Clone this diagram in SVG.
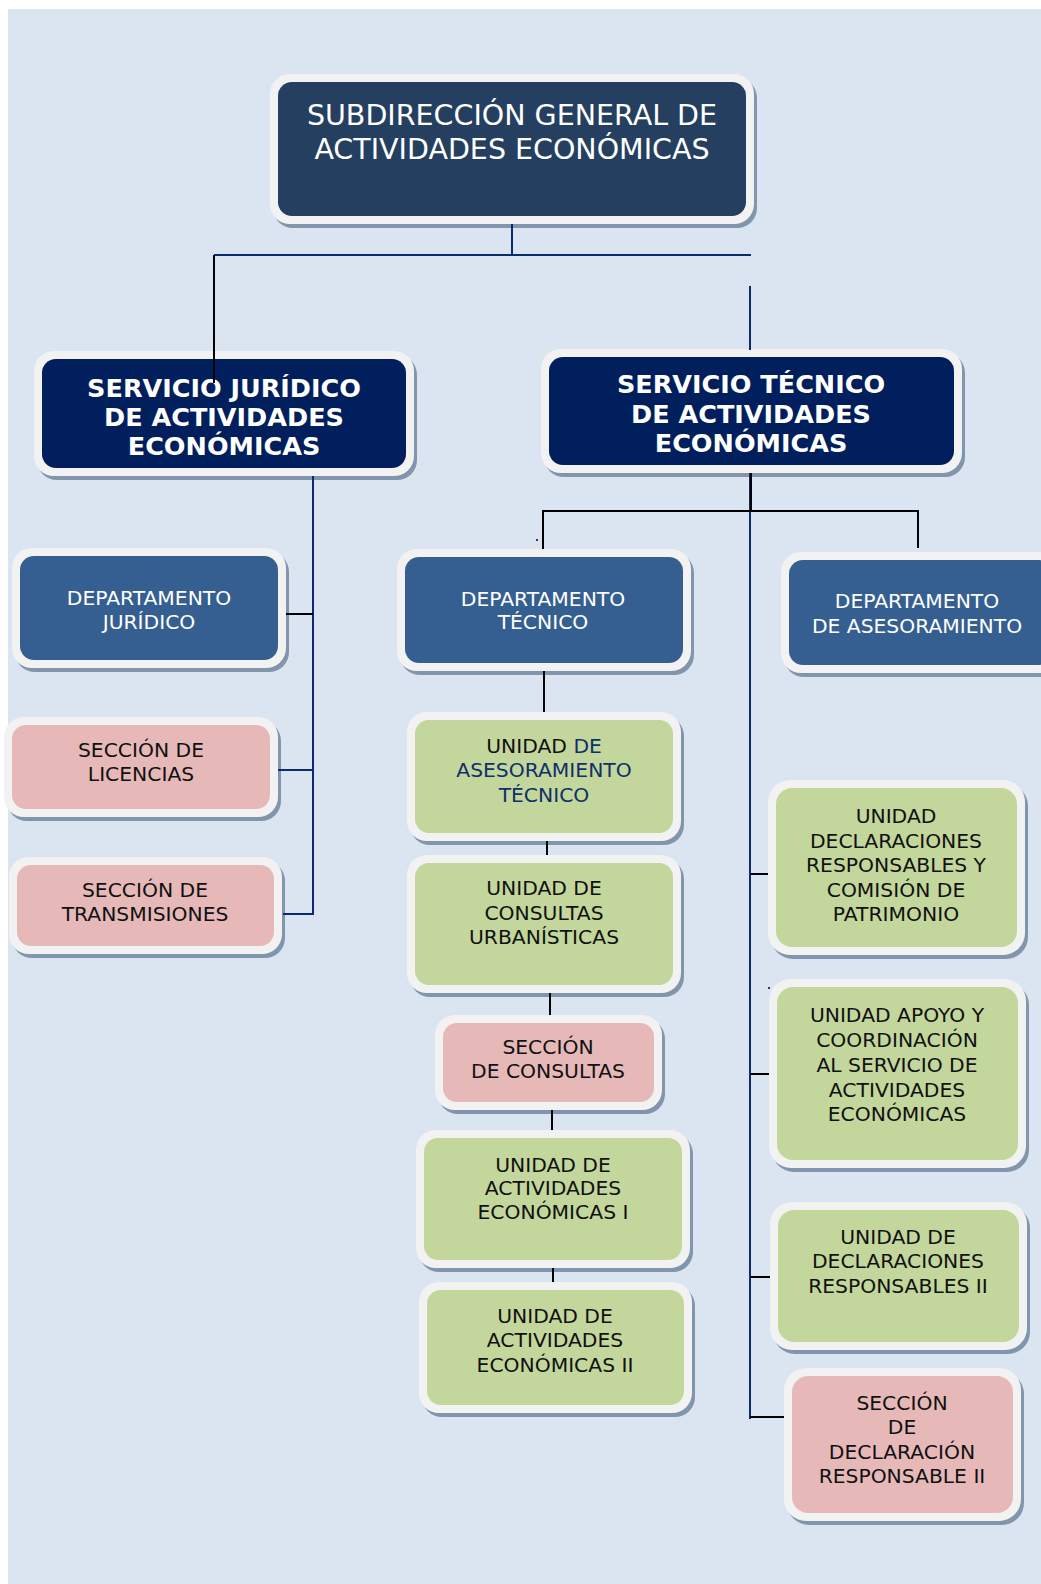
<svg xmlns="http://www.w3.org/2000/svg" width="1041" height="1584" viewBox="0 0 1041 1584">
<style>
.sh{fill:#8195ad;}
.ob{fill:#f2f2f2;}
.title{fill:#243f60;}
.serv{fill:#001f5c;}
.dept{fill:#365f91;}
.green{fill:#c3d69b;}
.pink{fill:#e6b9b8;}
text{font-family:"DejaVu Sans",Verdana,sans-serif;text-anchor:middle;}
.tt{font-size:28.5px;fill:#ffffff;}
.tb{font-size:25.5px;font-weight:bold;fill:#ffffff;}
.tw{font-size:20.3px;fill:#ffffff;}
.tk{font-size:20.3px;fill:#111111;}
.nv{fill:#10306a;}
.cn{fill:none;stroke:#0c2a6e;stroke-width:2;}
.ck{fill:none;stroke:#000000;stroke-width:2;}
</style>
<rect x="0" y="0" width="1041" height="1584" fill="#ffffff"/>
<rect x="8" y="9" width="1033" height="1575" fill="#dbe5f1"/>

<g id="n-subdireccion">
<rect class="sh" x="273" y="78" width="484" height="150" rx="20"/>
<rect class="ob" x="270" y="74" width="484" height="150" rx="20"/>
<rect class="title" x="278" y="82" width="468" height="134" rx="14"/>
<text class="tt" x="512" y="125">SUBDIRECCIÓN GENERAL DE</text>
<text class="tt" x="512" y="159">ACTIVIDADES ECONÓMICAS</text>
</g>

<g id="n-serv-juridico">
<rect class="sh" x="37" y="355" width="380" height="125" rx="20"/>
<rect class="ob" x="34" y="351" width="380" height="125" rx="20"/>
<rect class="serv" x="42" y="359" width="364" height="109" rx="14"/>
<text class="tb" x="224" y="397">SERVICIO JURÍDICO</text>
<text class="tb" x="224" y="426">DE ACTIVIDADES</text>
<text class="tb" x="224" y="455">ECONÓMICAS</text>
</g>

<g id="n-serv-tecnico">
<rect class="sh" x="544" y="353" width="421" height="124" rx="20"/>
<rect class="ob" x="541" y="349" width="421" height="124" rx="20"/>
<rect class="serv" x="549" y="357" width="405" height="108" rx="14"/>
<text class="tb" x="751" y="393">SERVICIO TÉCNICO</text>
<text class="tb" x="751" y="423">DE ACTIVIDADES</text>
<text class="tb" x="751" y="452">ECONÓMICAS</text>
</g>

<g id="n-dept-juridico">
<rect class="sh" x="15" y="552" width="274" height="120" rx="20"/>
<rect class="ob" x="12" y="548" width="274" height="120" rx="20"/>
<rect class="dept" x="20" y="556" width="258" height="104" rx="14"/>
<text class="tw" x="149" y="605">DEPARTAMENTO</text>
<text class="tw" x="149" y="629">JURÍDICO</text>
</g>

<g id="n-dept-tecnico">
<rect class="sh" x="400" y="553" width="294" height="122" rx="20"/>
<rect class="ob" x="397" y="549" width="294" height="122" rx="20"/>
<rect class="dept" x="405" y="557" width="278" height="106" rx="14"/>
<text class="tw" x="543" y="606">DEPARTAMENTO</text>
<text class="tw" x="543" y="629">TÉCNICO</text>
</g>

<g id="n-dept-asesoramiento">
<rect class="sh" x="784" y="556" width="280" height="121" rx="20"/>
<rect class="ob" x="781" y="552" width="280" height="121" rx="20"/>
<rect class="dept" x="789" y="560" width="264" height="105" rx="14"/>
<text class="tw" x="917" y="608">DEPARTAMENTO</text>
<text class="tw" x="917" y="633">DE ASESORAMIENTO</text>
</g>

<g id="n-licencias">
<rect class="sh" x="7" y="721" width="274" height="100" rx="20"/>
<rect class="ob" x="4" y="717" width="274" height="100" rx="20"/>
<rect class="pink" x="12" y="725" width="258" height="84" rx="14"/>
<text class="tk" x="141" y="757">SECCIÓN DE</text>
<text class="tk" x="141" y="781">LICENCIAS</text>
</g>

<g id="n-transmisiones">
<rect class="sh" x="12" y="861" width="273" height="97" rx="20"/>
<rect class="ob" x="9" y="857" width="273" height="97" rx="20"/>
<rect class="pink" x="17" y="865" width="257" height="81" rx="14"/>
<text class="tk" x="145" y="897">SECCIÓN DE</text>
<text class="tk" x="145" y="921">TRANSMISIONES</text>
</g>

<g id="n-u-asesoramiento-tecnico">
<rect class="sh" x="410" y="716" width="274" height="129" rx="20"/>
<rect class="ob" x="407" y="712" width="274" height="129" rx="20"/>
<rect class="green" x="415" y="720" width="258" height="113" rx="14"/>
<text class="tk" x="544" y="753">UNIDAD <tspan class="nv">DE</tspan></text>
<text class="tk nv" x="544" y="777">ASESORAMIENTO</text>
<text class="tk nv" x="544" y="802">TÉCNICO</text>
</g>

<g id="n-u-consultas">
<rect class="sh" x="410" y="859" width="274" height="138" rx="20"/>
<rect class="ob" x="407" y="855" width="274" height="138" rx="20"/>
<rect class="green" x="415" y="863" width="258" height="122" rx="14"/>
<text class="tk" x="544" y="895">UNIDAD DE</text>
<text class="tk" x="544" y="920">CONSULTAS</text>
<text class="tk" x="544" y="944">URBANÍSTICAS</text>
</g>

<g id="n-s-consultas">
<rect class="sh" x="438" y="1019" width="227" height="95" rx="20"/>
<rect class="ob" x="435" y="1015" width="227" height="95" rx="20"/>
<rect class="pink" x="443" y="1023" width="211" height="79" rx="14"/>
<text class="tk" x="548" y="1054">SECCIÓN</text>
<text class="tk" x="548" y="1078">DE CONSULTAS</text>
</g>

<g id="n-u-actividades-1">
<rect class="sh" x="419" y="1134" width="274" height="138" rx="20"/>
<rect class="ob" x="416" y="1130" width="274" height="138" rx="20"/>
<rect class="green" x="424" y="1138" width="258" height="122" rx="14"/>
<text class="tk" x="553" y="1172">UNIDAD DE</text>
<text class="tk" x="553" y="1195">ACTIVIDADES</text>
<text class="tk" x="553" y="1219">ECONÓMICAS I</text>
</g>

<g id="n-u-actividades-2">
<rect class="sh" x="422" y="1286" width="273" height="131" rx="20"/>
<rect class="ob" x="419" y="1282" width="273" height="131" rx="20"/>
<rect class="green" x="427" y="1290" width="257" height="115" rx="14"/>
<text class="tk" x="555" y="1323">UNIDAD DE</text>
<text class="tk" x="555" y="1347">ACTIVIDADES</text>
<text class="tk" x="555" y="1372">ECONÓMICAS II</text>
</g>

<g id="n-u-declaraciones-comision">
<rect class="sh" x="771" y="784" width="257" height="175" rx="22"/>
<rect class="ob" x="768" y="780" width="257" height="175" rx="22"/>
<rect class="green" x="776" y="788" width="241" height="159" rx="16"/>
<text class="tk" x="896" y="823">UNIDAD</text>
<text class="tk" x="896" y="848">DECLARACIONES</text>
<text class="tk" x="896" y="872">RESPONSABLES Y</text>
<text class="tk" x="896" y="897">COMISIÓN DE</text>
<text class="tk" x="896" y="921">PATRIMONIO</text>
</g>

<g id="n-u-apoyo">
<rect class="sh" x="772" y="983" width="257" height="189" rx="22"/>
<rect class="ob" x="769" y="979" width="257" height="189" rx="22"/>
<rect class="green" x="777" y="987" width="241" height="173" rx="16"/>
<text class="tk" x="897" y="1022">UNIDAD APOYO Y</text>
<text class="tk" x="897" y="1047">COORDINACIÓN</text>
<text class="tk" x="897" y="1072">AL SERVICIO DE</text>
<text class="tk" x="897" y="1097">ACTIVIDADES</text>
<text class="tk" x="897" y="1121">ECONÓMICAS</text>
</g>

<g id="n-u-declaraciones-2">
<rect class="sh" x="773" y="1206" width="257" height="148" rx="22"/>
<rect class="ob" x="770" y="1202" width="257" height="148" rx="22"/>
<rect class="green" x="778" y="1210" width="241" height="132" rx="16"/>
<text class="tk" x="898" y="1244">UNIDAD DE</text>
<text class="tk" x="898" y="1268">DECLARACIONES</text>
<text class="tk" x="898" y="1293">RESPONSABLES II</text>
</g>

<g id="n-s-declaracion-2">
<rect class="sh" x="787" y="1372" width="237" height="153" rx="22"/>
<rect class="ob" x="784" y="1368" width="237" height="153" rx="22"/>
<rect class="pink" x="792" y="1376" width="221" height="137" rx="16"/>
<text class="tk" x="902" y="1410">SECCIÓN</text>
<text class="tk" x="902" y="1434">DE</text>
<text class="tk" x="902" y="1459">DECLARACIÓN</text>
<text class="tk" x="902" y="1483">RESPONSABLE II</text>
</g>

<g id="connectors">
<path class="cn" d="M512,224 V255" stroke-width="1.5"/>
<path class="cn" d="M214,255 H751"/>
<path class="ck" d="M214,255 V383"/>
<path class="cn" d="M750,286 V350" stroke-width="1.5"/>
<path class="cn" d="M313,476 V915"/>
<path class="ck" d="M286,614 H313"/>
<path class="cn" d="M278,770 H313"/>
<path class="cn" d="M283,914 H313"/>
<path class="cn" d="M750,473 V1419"/>
<path class="ck" d="M751,473 V511" stroke-width="2.5"/>
<path class="ck" d="M543,549 V511 H918 V548"/>
<path class="ck" d="M544,671 V712"/>
<path class="ck" d="M547,841 V855"/>
<path class="ck" d="M550,993 V1015"/>
<path class="ck" d="M552,1110 V1130"/>
<path class="ck" d="M553,1268 V1282"/>
<path class="ck" d="M750,874 H768"/>
<path class="ck" d="M750,1074 H769"/>
<path class="ck" d="M750,1277 H770"/>
<path class="ck" d="M750,1417 H784"/>
<circle cx="537" cy="540" r="1" fill="#000"/>
<circle cx="769" cy="988" r="1" fill="#000"/>
</g>
</svg>
